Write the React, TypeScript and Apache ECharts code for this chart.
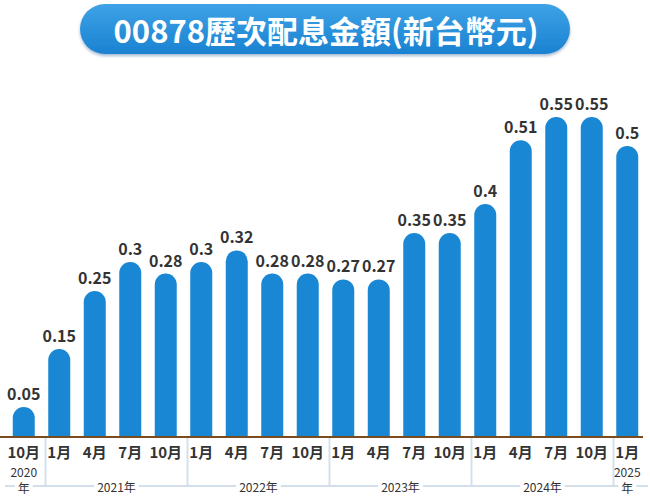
import React, { useEffect, useRef } from "react";
import * as echarts from "echarts";

const TITLE = "00878歷次配息金額(新台幣元)";
const periods = [
  "2020/10",
  "2021/1", "2021/4", "2021/7", "2021/10",
  "2022/1", "2022/4", "2022/7", "2022/10",
  "2023/1", "2023/4", "2023/7", "2023/10",
  "2024/1", "2024/4", "2024/7", "2024/10",
  "2025/1",
];
const dividends = [
  0.05,
  0.15, 0.25, 0.3, 0.28,
  0.3, 0.32, 0.28, 0.28,
  0.27, 0.27, 0.35, 0.35,
  0.4, 0.51, 0.55, 0.55,
  0.5,
];

const FONT = "'Noto Sans CJK TC', 'Noto Sans', sans-serif";
const BAR = "#1a87d5";
const GUIDE = "#d3e0ec";

export default function App() {
  const ref = useRef<HTMLDivElement>(null);
  useEffect(() => {
    if (!ref.current) return;
    const chart = echarts.init(ref.current, null, { renderer: "svg" });
    chart.setOption({
      animation: false,
      grid: { left: 6, right: 5, top: 117, bottom: 64, containLabel: false },
      xAxis: {
        type: "category",
        data: periods,
        axisLine: { show: false },
        axisTick: { show: false },
        axisLabel: {
          interval: 0,
          margin: 8,
          fontSize: 15,
          fontWeight: "bold",
          color: "#333",
          fontFamily: FONT,
          formatter: (v: string) => v.split("/")[1] + "月",
        },
      },
      yAxis: {
        type: "value",
        min: 0,
        max: 0.55,
        show: false,
        splitLine: { show: false },
      },
      series: [
        {
          type: "bar",
          data: dividends,
          barWidth: 22,
          itemStyle: { color: BAR, borderRadius: [11, 11, 0, 0] },
          label: {
            show: true,
            position: "top",
            distance: 6,
            fontSize: 16,
            fontWeight: "bold",
            color: "#333",
            fontFamily: FONT,
          },
        },
      ],
    });

    const px = (i: number) => chart.convertToPixel({ xAxisIndex: 0 }, i) as number;
    const y0 = chart.convertToPixel({ yAxisIndex: 0 }, 0) as number;
    const step = px(1) - px(0);

    const groups: { year: string; start: number; end: number }[] = [];
    periods.forEach((p, i) => {
      const y = p.split("/")[0];
      const g = groups[groups.length - 1];
      if (g && g.year === y) g.end = i;
      else groups.push({ year: y, start: i, end: i });
    });

    const lineY = 486;
    const elements: any[] = [];
    elements.push({
      type: "rect",
      shape: { x: 80, y: 4, width: 490, height: 50, r: 25 },
      style: {
        fill: new echarts.graphic.LinearGradient(0, 0, 0, 1, [
          { offset: 0, color: "#3ea2e6" },
          { offset: 1, color: "#1a82d1" },
        ]),
        shadowBlur: 3,
        shadowOffsetY: 2,
        shadowColor: "rgba(0,60,120,0.35)",
      },
      z: 10,
    });
    elements.push({
      type: "text",
      x: 326,
      y: 29,
      style: {
        text: TITLE,
        fill: "#fff",
        font: `bold 31px ${FONT}`,
        align: "center",
        verticalAlign: "middle",
      },
      z: 11,
    });
    elements.push({
      type: "line",
      shape: { x1: 0, y1: y0 + 1, x2: px(periods.length - 1) + step / 2 - 2, y2: y0 + 1 },
      style: { stroke: "#7b4a1f", lineWidth: 2 },
      z: 5,
    });
    elements.push({
      type: "line",
      shape: { x1: 5, y1: lineY, x2: 648, y2: lineY },
      style: { stroke: GUIDE, lineWidth: 2 },
    });
    const bounds: number[] = [];
    groups.forEach((g, gi) => {
      if (gi > 0) bounds.push(px(g.start) - step / 2 + 4);
    });
    bounds.forEach((bx) => {
      elements.push({
        type: "line",
        shape: { x1: bx, y1: y0 + 2, x2: bx, y2: lineY },
        style: { stroke: GUIDE, lineWidth: 2 },
      });
    });
    groups.forEach((g, gi) => {
      const left = gi === 0 ? 0 : bounds[gi - 1];
      const right = gi === groups.length - 1 ? 650 : bounds[gi];
      const single = g.start === g.end;
      if (single) {
        const cx = px(g.start);
        elements.push({
          type: "text",
          x: cx,
          y: 471,
          style: {
            text: g.year,
            fill: "#333",
            font: `12px ${FONT}`,
            align: "center",
            verticalAlign: "middle",
          },
          z: 6,
        });
        elements.push({
          type: "text",
          x: cx,
          y: 487,
          style: {
            text: "年",
            fill: "#333",
            font: `12px ${FONT}`,
            align: "center",
            verticalAlign: "middle",
            backgroundColor: "#fff",
            padding: [0, 3],
          },
          z: 6,
        });
      } else {
        elements.push({
          type: "text",
          x: (left + right) / 2,
          y: lineY,
          style: {
            text: g.year + "年",
            fill: "#333",
            font: `12px ${FONT}`,
            align: "center",
            verticalAlign: "middle",
            backgroundColor: "#fff",
            padding: [0, 3],
          },
          z: 6,
        });
      }
    });

    chart.setOption({ graphic: { elements } });
    return () => chart.dispose();
  }, []);
  return (
    <div
      ref={ref}
      style={{ position: "fixed", left: 0, top: 0, width: 650, height: 500, background: "#fff" }}
    />
  );
}
